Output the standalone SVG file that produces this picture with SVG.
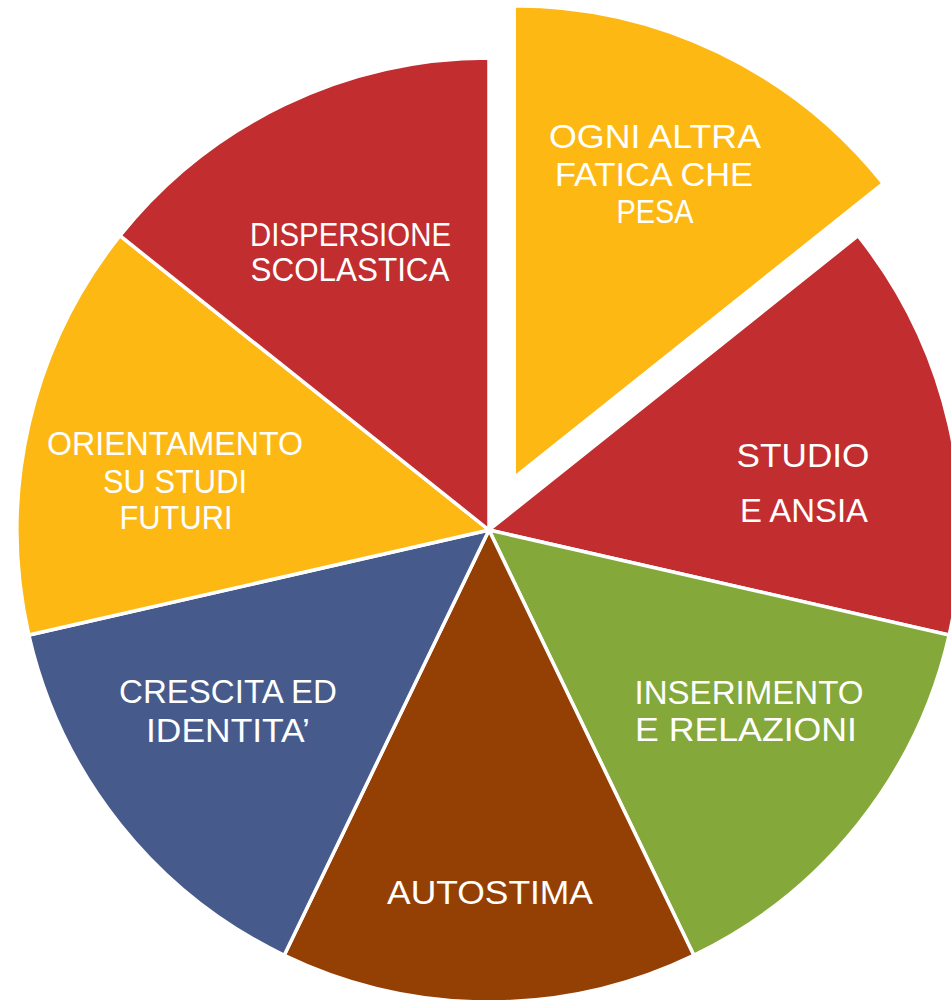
<svg xmlns="http://www.w3.org/2000/svg" width="951" height="1000" viewBox="0 0 951 1000">
<style>
.s{stroke:#fff;stroke-width:3.5;stroke-linejoin:miter}
.red{fill:#C22D30}.yel{fill:#FDB813}.grn{fill:#84A839}.brn{fill:#944005}.blu{fill:#475A8C}
text{font-family:"Liberation Sans",Arial,sans-serif;font-size:33px;fill:#fff;text-anchor:middle}
</style>
<rect width="951" height="1000" fill="#fff"/>
<g id="slice-ogni">
<path class="s yel" d="M514.2,477.7 L514.2,5.7 A472,472 0 0 1 883.2,183.4 Z"/>
<text x="655" y="148" textLength="212" lengthAdjust="spacingAndGlyphs">OGNI ALTRA</text>
<text x="654" y="186" textLength="198" lengthAdjust="spacingAndGlyphs">FATICA CHE</text>
<text x="655" y="223" textLength="77" lengthAdjust="spacingAndGlyphs">PESA</text>
</g>
<g id="slice-studio">
<path class="s red" d="M489,530 L858.02,235.71 A472,472 0 0 1 949.17,635.03 Z"/>
<text x="803" y="467" textLength="133" lengthAdjust="spacingAndGlyphs">STUDIO</text>
<text x="804" y="522" textLength="128" lengthAdjust="spacingAndGlyphs">E ANSIA</text>
</g>
<g id="slice-inserimento">
<path class="s grn" d="M489,530 L949.17,635.03 A472,472 0 0 1 693.79,955.26 Z"/>
<text x="749" y="704" textLength="229" lengthAdjust="spacingAndGlyphs">INSERIMENTO</text>
<text x="746" y="741" textLength="222" lengthAdjust="spacingAndGlyphs">E RELAZIONI</text>
</g>
<g id="slice-autostima">
<path class="s brn" d="M489,530 L693.79,955.26 A472,472 0 0 1 284.21,955.26 Z"/>
<text x="490" y="904" textLength="206" lengthAdjust="spacingAndGlyphs">AUTOSTIMA</text>
</g>
<g id="slice-crescita">
<path class="s blu" d="M489,530 L284.21,955.26 A472,472 0 0 1 28.83,635.03 Z"/>
<text x="228" y="703" textLength="218" lengthAdjust="spacingAndGlyphs">CRESCITA ED</text>
<text x="228" y="742" textLength="164" lengthAdjust="spacingAndGlyphs">IDENTITA’</text>
</g>
<g id="slice-orientamento">
<path class="s yel" d="M489,530 L28.83,635.03 A472,472 0 0 1 119.98,235.71 Z"/>
<text x="175" y="455" textLength="256" lengthAdjust="spacingAndGlyphs">ORIENTAMENTO</text>
<text x="175" y="493" textLength="144" lengthAdjust="spacingAndGlyphs">SU STUDI</text>
<text x="176" y="529" textLength="113" lengthAdjust="spacingAndGlyphs">FUTURI</text>
</g>
<g id="slice-dispersione">
<path class="s red" d="M489,530 L119.98,235.71 A472,472 0 0 1 489,58 Z"/>
<text x="350.5" y="246" textLength="201" lengthAdjust="spacingAndGlyphs">DISPERSIONE</text>
<text x="350" y="281" textLength="199" lengthAdjust="spacingAndGlyphs">SCOLASTICA</text>
</g>
<g id="connectors"></g>
</svg>
